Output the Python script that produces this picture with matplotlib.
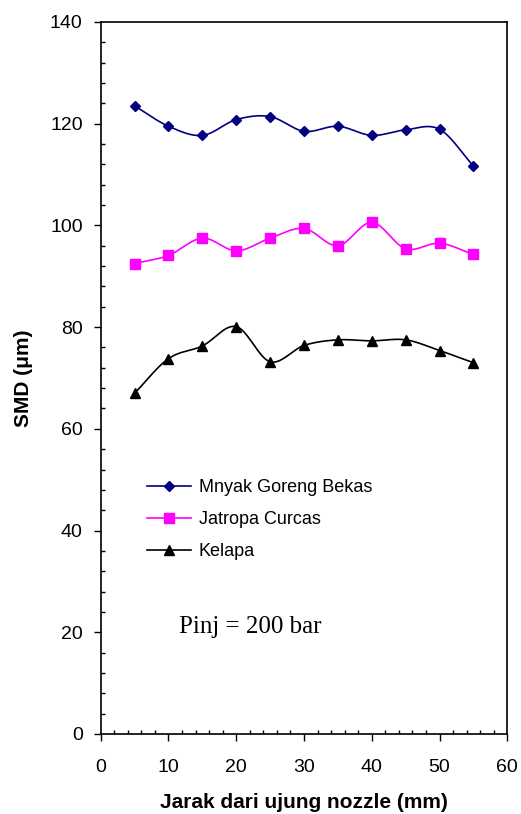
import numpy as np
import matplotlib
matplotlib.use("Agg")
import matplotlib.pyplot as plt
from matplotlib.ticker import MultipleLocator

x_mm = [5, 10, 15, 20, 25, 30, 35, 40, 45, 50, 55]
mgb = [123.5, 119.5, 117.7, 120.8, 121.4, 118.5, 119.5, 117.7, 118.8, 118.9, 111.7]
jatropha = [92.5, 94.1, 97.5, 95.0, 97.5, 99.4, 96.0, 100.6, 95.4, 96.5, 94.3]
kelapa = [67.0, 73.8, 76.3, 80.1, 73.2, 76.4, 77.5, 77.3, 77.5, 75.4, 73.0]
labels = ["Mnyak Goreng Bekas", "Jatropa Curcas", "Kelapa"]
colors = ["#000080", "#FF00FF", "#000000"]
markers = ["D", "s", "^"]


def smooth(xs, ys, n=20):
    xs = np.asarray(xs, float)
    ys = np.asarray(ys, float)
    px = np.concatenate([[2 * xs[0] - xs[1]], xs, [2 * xs[-1] - xs[-2]]])
    py = np.concatenate([[2 * ys[0] - ys[1]], ys, [2 * ys[-1] - ys[-2]]])
    ox, oy = [], []
    t = np.linspace(0, 1, n, endpoint=False)
    for i in range(1, len(px) - 2):
        for arr, out in ((px, ox), (py, oy)):
            p0, p1, p2, p3 = arr[i - 1], arr[i], arr[i + 1], arr[i + 2]
            out.extend(0.5 * ((2 * p1) + (-p0 + p2) * t
                              + (2 * p0 - 5 * p1 + 4 * p2 - p3) * t ** 2
                              + (-p0 + 3 * p1 - 3 * p2 + p3) * t ** 3))
    ox.append(xs[-1]); oy.append(ys[-1])
    return np.array(ox), np.array(oy)


plt.rcParams['font.family'] = ['Liberation Sans', 'DejaVu Sans']
fig = plt.figure(figsize=(5.21, 8.14), dpi=100)
ax = fig.add_axes([0.1933, 0.0983, 0.7804, 0.8747])

for ys, lab, c, m in zip([mgb, jatropha, kelapa], labels, colors, markers):
    ms = 6.5 if m != 'D' else 5.5
    sx, sy = smooth(x_mm, ys)
    ax.plot(sx, sy, color=c, lw=1.2)
    ax.plot(x_mm, ys, linestyle='none', marker=m, color=c, markersize=ms)
    ax.plot([], [], color=c, lw=1.2, marker=m, markersize=ms, label=lab)

ax.set_xlim(0, 60)
ax.set_ylim(0, 140)
ax.xaxis.set_major_locator(MultipleLocator(10))
ax.xaxis.set_minor_locator(MultipleLocator(2))
ax.yaxis.set_major_locator(MultipleLocator(20))
ax.yaxis.set_minor_locator(MultipleLocator(4))
ax.tick_params(which='major', direction='out', length=5, width=1, labelsize=14)
ax.tick_params(axis='x', which='major', pad=13)
ax.tick_params(axis='y', which='major', pad=8)
ax.tick_params(which='minor', direction='in', length=3, width=1)
for s in ax.spines.values():
    s.set_linewidth(1.2)

ax.set_xlabel("Jarak dari ujung nozzle (mm)", fontsize=15, fontweight='bold', labelpad=12)
ax.set_ylabel("SMD (\u03bcm)", fontsize=15, fontweight='bold', labelpad=12)

hh, ll = ax.get_legend_handles_labels()
ax.legend(hh, ll, loc='upper left', bbox_to_anchor=(0.097, 0.368), frameon=False,
          fontsize=13, handlelength=2.4, labelspacing=0.83, handletextpad=0.45,
          borderaxespad=0)

ax.text(22, 21, "Pinj = 200 bar", fontsize=18, family=['Liberation Serif', 'DejaVu Serif'],
        ha='center', va='center')

fig.savefig("out.png", dpi=100)
